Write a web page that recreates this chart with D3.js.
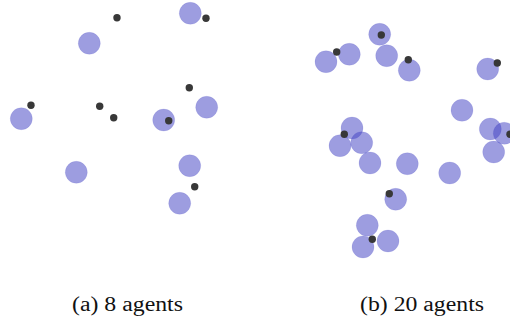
<!DOCTYPE html>
<html>
<head>
<meta charset="utf-8">
<script src="https://cdn.jsdelivr.net/npm/d3@7"></script>
<style>
  body { margin: 0; background: #fff; }
  svg { display: block; }
  .legende { font-family: "Liberation Serif", "Times New Roman", Times, serif; font-size: 20px; fill: #111; }
</style>
</head>
<body>
<div id="chart"></div>
<script>
// positions des agents (cercles) et des cibles (points), coordonnées locales du panneau
var agents8 = [[89.3, 43.3], [190.3, 13.3], [21.3, 118.7], [163.7, 120], [206.7, 107.3],
    [76.3, 172.3], [189.7, 165.7], [179.7, 203.3]];
var cibles8 = [[117, 17.7], [206, 18.3], [31, 105.3], [99.7, 106.3], [113.7, 117.7],
    [189.3, 87.7], [168.7, 120.7], [194.7, 186.7]];

var agents20 = [[124.7, 34.3], [71, 61.7], [94.3, 54.3], [131.7, 55.7], [154.3, 70.3],
    [232.7, 69], [207, 110.3], [97, 128], [85, 145.7], [106.7, 142.7],
    [115, 163], [152.3, 163.7], [194.7, 173], [235.3, 129], [249.3, 133.3],
    [238.7, 152], [140.7, 199.3], [112.3, 225.3], [108, 247], [133, 241]];
var cibles20 = [[126.3, 35], [81.7, 52], [153.3, 59.7], [242.3, 63], [89.3, 134.3],
    [255, 134.3], [134.3, 193.7], [117.3, 239.3]];

var legendes = ["(a) 8 agents", "(b) 20 agents"];

var width = 510, height = 319;

var svg = d3.select("#chart").append("svg")
    .attr("width", width)
    .attr("height", height);

// la police de la figure est étirée en largeur : on impose la longueur du texte
var panneaux = [
    { x0: 0, agents: agents8, cibles: cibles8, legende: legendes[0], cx: 127.5, largeur: 111 },
    { x0: 255, agents: agents20, cibles: cibles20, legende: legendes[1], cx: 422, largeur: 124 }
];

panneaux.forEach(function (p) {
    var x = d3.scaleLinear().domain([0, 255]).range([p.x0, p.x0 + 255]);
    var y = d3.scaleLinear().domain([0, 270]).range([0, 270]);

    var g = svg.append("g");

    g.selectAll(".agent")
        .data(p.agents)
        .enter().append("circle")
        .attr("class", "agent")
        .attr("cx", function (d) { return x(d[0]); })
        .attr("cy", function (d) { return y(d[1]); })
        .attr("r", 11)
        .attr("fill", "rgb(68,68,196)")
        .attr("fill-opacity", 0.52)
        .attr("stroke", "rgb(68,68,196)")
        .attr("stroke-opacity", 0.15)
        .attr("stroke-width", 0.8);

    g.selectAll(".cible")
        .data(p.cibles)
        .enter().append("circle")
        .attr("class", "cible")
        .attr("cx", function (d) { return x(d[0]); })
        .attr("cy", function (d) { return y(d[1]); })
        .attr("r", 3.7)
        .attr("fill", "#383838");

    svg.append("text")
        .attr("class", "legende")
        .attr("x", p.cx - p.largeur / 2)
        .attr("y", 311)
        .attr("textLength", p.largeur)
        .attr("lengthAdjust", "spacingAndGlyphs")
        .text(p.legende);
});
</script>
</body>
</html>
